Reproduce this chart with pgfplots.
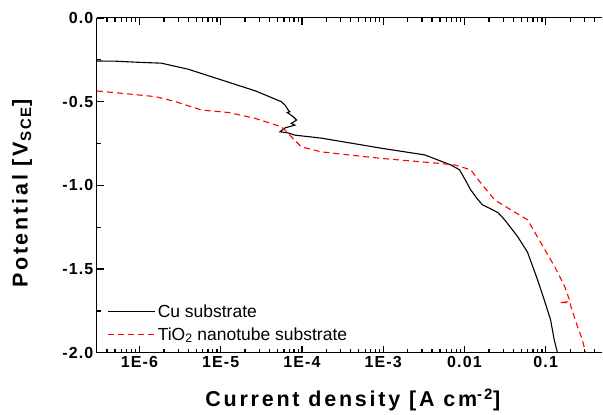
\documentclass[border=0pt]{standalone}
\usepackage{fontspec}
\setmainfont{Liberation Sans}
\newfontfamily\tickfont{Liberation Sans}[LetterSpace=7]
\newfontfamily\labfont{Liberation Sans}[LetterSpace=13]
\usepackage{pgfplots}
\pgfplotsset{compat=1.18}

% Cu substrate (current density, potential)
\pgfplotstableread{
x y
3e-7 -0.257
5.01e-7 -0.258
1e-6 -0.265
1.86e-6 -0.270
3.98e-6 -0.306
1.02e-5 -0.370
2.69e-5 -0.436
5.57e-5 -0.500
6.18e-5 -0.520
6.79e-5 -0.550
7.1e-5 -0.560
6.6e-5 -0.565
7.82e-5 -0.590
8.59e-5 -0.610
7.40e-5 -0.630
8.20e-5 -0.640
6.18e-5 -0.657
5.37e-5 -0.680
6.79e-5 -0.687
8.20e-5 -0.700
1.74e-4 -0.718
3.72e-4 -0.745
1e-3 -0.780
3.24e-3 -0.818
6.79e-3 -0.878
8.7e-3 -0.907
1.05e-2 -0.977
1.194e-2 -1.027
1.41e-2 -1.075
1.66e-2 -1.116
2.10e-2 -1.140
2.6e-2 -1.164
3.13e-2 -1.206
4.51e-2 -1.306
5.98e-2 -1.400
7.94e-2 -1.564
9.59e-2 -1.684
0.1148 -1.803
0.127 -1.920
0.1396 -2.000
}\cudata

% TiO2 nanotube substrate
\pgfplotstableread{
x y
3e-7 -0.436
6.07e-7 -0.450
1.585e-6 -0.470
2.79e-6 -0.500
5.81e-6 -0.550
1.26e-5 -0.565
2.67e-5 -0.600
5.57e-5 -0.650
6.18e-5 -0.669
7.41e-5 -0.710
9.84e-5 -0.770
1.74e-4 -0.800
3.72e-4 -0.818
1e-3 -0.840
4.71e-3 -0.868
7.59e-3 -0.878
1.194e-2 -0.907
1.585e-2 -0.985
2.355e-2 -1.087
3.715e-2 -1.146
5.98e-2 -1.206
8.71e-2 -1.343
0.1288 -1.485
0.171 -1.604
0.1995 -1.695
0.148 -1.700
0.200 -1.702
0.204 -1.723
0.2455 -1.843
0.2818 -1.920
0.309 -2.000
}\tidata

\begin{document}
\begin{tikzpicture}
\begin{semilogxaxis}[
    at={(0,0)}, anchor=south west,
    scale only axis,
    width=506pt, height=335pt,
    xmin=3e-7, xmax=0.5,
    ymin=-2, ymax=0,
    axis x line=box, axis y line=left,
    y axis line style={-},
    axis line style={line width=1pt},
    tick align=inside,
    major tick length=7pt, minor tick length=4pt,
    xtick style={draw=black, line width=1.3pt},
    ytick style={draw=black, line width=1.3pt},
    xtick={1e-6,1e-5,1e-4,1e-3,1e-2,1e-1},
    xticklabels={1E-6,1E-5,1E-4,1E-3,0.01,0.1},
    minor xtick={4e-7,5e-7,6e-7,7e-7,8e-7,9e-7,
        2e-6,3e-6,4e-6,5e-6,6e-6,7e-6,8e-6,9e-6,
        2e-5,3e-5,4e-5,5e-5,6e-5,7e-5,8e-5,9e-5,
        2e-4,3e-4,4e-4,5e-4,6e-4,7e-4,8e-4,9e-4,
        2e-3,3e-3,4e-3,5e-3,6e-3,7e-3,8e-3,9e-3,
        2e-2,3e-2,4e-2,5e-2,6e-2,7e-2,8e-2,9e-2,
        2e-1,3e-1,4e-1},
    ytick={0,-0.5,-1,-1.5,-2},
    yticklabels={0.0,-0.5,-1.0,-1.5,-2.0},
    minor ytick={-0.25,-0.75,-1.25,-1.75},
    tick label style={font=\tickfont\bfseries\fontsize{16}{19}\selectfont},
    xlabel={Current density [A cm\textsuperscript{-2}]},
    ylabel={Potential [V\textsubscript{SCE}]},
    label style={font=\labfont\bfseries\fontsize{21.5}{25}\selectfont},
    xlabel style={at={(axis description cs:0.506,-0.161)}, anchor=base},
    ylabel style={at={(axis description cs:-0.148,0.475)}, anchor=center},
    legend cell align=left,
    legend style={draw=none, fill=none, at={(axis description cs:0.015,0.02)},
        anchor=south west, font=\fontsize{17.5}{20}\selectfont,
        row sep=5pt},
    legend image code/.code={%
        \draw[mark repeat=2,mark phase=2,#1]
            plot coordinates {(0pt,0pt) (23.5pt,0pt) (47pt,0pt)};},
]
\addplot[color=black, line width=1.1pt] table {\cudata};
\addlegendentry{Cu substrate}
\addplot[color=red, line width=1.1pt, dash pattern=on 6pt off 4pt] table {\tidata};
\addlegendentry{TiO\textsubscript{2} nanotube substrate}
\end{semilogxaxis}
\path[use as bounding box] ([shift={(-97pt,-62pt)}]current axis.south west)
    rectangle ([shift={(0pt,18pt)}]current axis.north east);
\end{tikzpicture}
\end{document}
